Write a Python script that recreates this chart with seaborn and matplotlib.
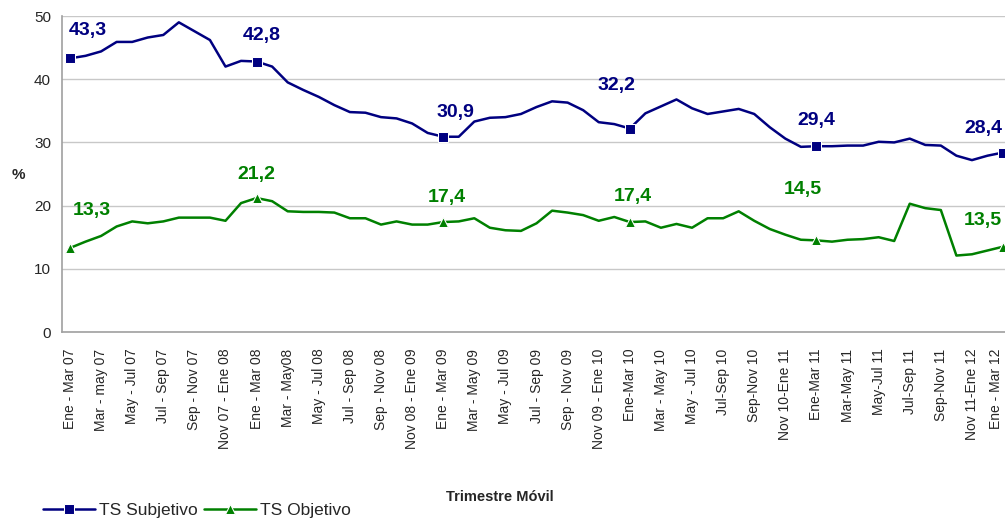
import numpy as np
import pandas as pd
import matplotlib
matplotlib.use("Agg")
import matplotlib.pyplot as plt
import matplotlib.transforms as mtransforms
import seaborn as sns

# Rolling quarters Ene-Mar 07 ... Ene-Mar 12 (61 monthly points)
subjetivo = [43.3, 43.7, 44.4, 45.9, 45.9, 46.6, 47.0, 49.0, 47.6, 46.2,
             42.0, 42.9, 42.8, 42.0, 39.5, 38.3, 37.2, 35.9, 34.8, 34.7,
             34.0, 33.8, 33.0, 31.5, 30.9, 30.9, 33.3, 33.9, 34.0, 34.5,
             35.6, 36.5, 36.3, 35.1, 33.2, 32.9, 32.2, 34.6, 35.7, 36.8,
             35.4, 34.5, 34.9, 35.3, 34.5, 32.4, 30.6, 29.3, 29.4, 29.4,
             29.5, 29.5, 30.1, 30.0, 30.6, 29.6, 29.5, 27.9, 27.2, 27.9,
             28.4]
objetivo = [13.3, 14.3, 15.2, 16.7, 17.5, 17.2, 17.5, 18.1, 18.1, 18.1,
            17.6, 20.4, 21.2, 20.7, 19.1, 19.0, 19.0, 18.9, 18.0, 18.0,
            17.0, 17.5, 17.0, 17.0, 17.4, 17.5, 18.0, 16.5, 16.1, 16.0,
            17.2, 19.2, 18.9, 18.5, 17.6, 18.2, 17.4, 17.5, 16.5, 17.1,
            16.5, 18.0, 18.0, 19.1, 17.6, 16.3, 15.4, 14.6, 14.5, 14.3,
            14.6, 14.7, 15.0, 14.4, 20.3, 19.6, 19.3, 12.1, 12.3, 12.9,
            13.5]
tick_labels = ["Ene - Mar 07", "Mar - may 07", "May - Jul 07", "Jul - Sep 07",
               "Sep - Nov 07", "Nov 07 - Ene 08", "Ene - Mar 08", "Mar - May08",
               "May - Jul 08", "Jul - Sep 08", "Sep - Nov 08", "Nov 08 - Ene 09",
               "Ene - Mar 09", "Mar - May 09", "May - Jul 09", "Jul - Sep 09",
               "Sep - Nov 09", "Nov 09 - Ene 10", "Ene-Mar 10", "Mar - May 10",
               "May - Jul 10", "Jul-Sep 10", "Sep-Nov 10", "Nov 10-Ene 11",
               "Ene-Mar 11", "Mar-May 11", "May-Jul 11", "Jul-Sep 11",
               "Sep-Nov 11", "Nov 11-Ene 12", "Ene - Mar 12"]
marked = [0, 12, 24, 36, 48, 60]

df = pd.DataFrame({"idx": np.arange(len(subjetivo)),
                   "TS Subjetivo": subjetivo,
                   "TS Objetivo": objetivo})

sns.set_style("white")
plt.rcParams['font.family'] = ['Liberation Sans', 'DejaVu Sans']

blue = "#000080"
green = "#008000"

fig = plt.figure(figsize=(10.05, 5.2), dpi=100)
ax = fig.add_axes([0.0619, 0.3615, 0.9439, 0.6077])

sns.lineplot(data=df, x="idx", y="TS Subjetivo", ax=ax, color=blue, lw=1.8,
             marker="s", markersize=6.5, markevery=marked, label="TS Subjetivo")
sns.lineplot(data=df, x="idx", y="TS Objetivo", ax=ax, color=green, lw=1.8,
             marker="^", markersize=7.5, markevery=marked, label="TS Objetivo")

# value labels (pixel offsets from the marked points)
off_s = [(18, 28), (5, 26), (12, 24), (-13, 43), (0, 26), (-20, 24)]
off_o = [(22, 37), (0, 24), (4, 25), (3, 26), (-14, 51), (-20, 26)]
for k, i in enumerate(marked):
    ax.annotate(f"{subjetivo[i]:.1f}".replace(".", ","), (i, subjetivo[i]),
                xytext=off_s[k], textcoords="offset pixels", ha="center",
                va="center", color=blue, fontsize=14, fontweight="bold",
                annotation_clip=False)
    ax.annotate(f"{objetivo[i]:.1f}".replace(".", ","), (i, objetivo[i]),
                xytext=off_o[k], textcoords="offset pixels", ha="center",
                va="center", color=green, fontsize=14, fontweight="bold",
                annotation_clip=False)

ax.set_xlim(-0.5, len(subjetivo) - 0.5)
ax.set_ylim(0, 50)
ax.set_yticks(range(0, 51, 10))
ax.set_xticks(np.arange(0, len(subjetivo), 2))
ax.set_xticklabels(tick_labels, rotation=90, fontsize=10)
ax.set_xticks(np.arange(-0.5, len(subjetivo), 1), minor=True)
ax.tick_params(axis="x", which="major", length=0, pad=12)
ax.tick_params(axis="x", which="minor", length=5, color="#a0a0a0", width=1)
ax.tick_params(axis="y", length=4, color="#a0a0a0", labelsize=11, pad=4)
ax.yaxis.grid(True, color="#c8c8c8", lw=1)
ax.set_axisbelow(True)
for s in ["top", "right"]:
    ax.spines[s].set_visible(False)
for s in ["left", "bottom"]:
    ax.spines[s].set_color("#a0a0a0")
    ax.spines[s].set_linewidth(1.2)
ax.set_xlabel("")
ax.set_ylabel("")
ax.get_legend().remove()

# nudge the last tick label so it stays inside the figure
last = ax.get_xticklabels()[-1]
last.set_transform(last.get_transform() +
                   mtransforms.ScaledTranslation(-7 / 100, 0, fig.dpi_scale_trans))

fig.text(18 / 1005, 1 - 175 / 520, "%", fontsize=11, fontweight="bold",
         ha="center", va="center")
fig.text(500 / 1005, 1 - 497 / 520, "Trimestre Móvil", fontsize=10.5,
         fontweight="bold", ha="center", va="center")

handles, labels = ax.get_legend_handles_labels()
fig.legend(handles, labels, loc="center left", bbox_to_anchor=(0.036, 1 - 510 / 520),
           ncol=2, frameon=False, fontsize=12.5, handlelength=3.0,
           handletextpad=0.2, columnspacing=0.4, borderaxespad=0)

fig.savefig("out.png", dpi=100)
